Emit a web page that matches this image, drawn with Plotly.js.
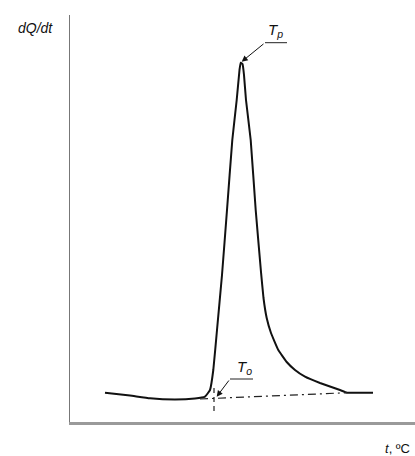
<!DOCTYPE html>
<html>
<head>
<meta charset="utf-8">
<script src="https://cdn.plot.ly/plotly-3.0.1.min.js"></script>
<style>html,body{margin:0;padding:0;background:#fff;}#chart{width:415px;height:456px;}</style>
</head>
<body>
<div id="chart"></div>
<script>
// Temperature (arbitrary units along t axis) and heat flow dQ/dt (arbitrary units)
var tempValues = [35, 60, 80, 105, 125, 135, 140, 143.3, 147, 152, 157, 162.3, 166.7, 169.5, 170.7, 172.5, 174, 176, 180.7, 185.7, 191, 193.5, 196.7, 201, 208.3, 216.7, 225, 235, 250, 270, 277, 303];
var heatFlow   = [29.3, 26.5, 23.7, 22.5, 23.5, 25.3, 32, 52, 92, 147, 212, 282, 322, 352, 359.3, 358, 347, 322, 282, 212, 150, 124, 104, 89, 72, 60, 52, 45.3, 39, 32, 29.3, 29.3];
// Extrapolated baseline
var baseT = [130, 277];
var baseQ = [23, 29.3];
// Onset marker
var onsetT = [144, 144];
var onsetQ = [34, 10];
// Labels
var peakLabel = "T<sub>p</sub>";
var onsetLabel = "T<sub>o</sub>";
var yLabel = "dQ/dt";
var xLabel = "<i>t</i>, ºC";
var peakPoint = [171.7, 360.3];
var onsetPoint = [146.7, 25.3];

var font = "Liberation Sans, Arial, sans-serif";

var traces = [
  {x: tempValues, y: heatFlow, mode: "lines", line: {color: "#111", width: 2, shape: "spline", smoothing: 0.3}, hoverinfo: "none"},
  {x: baseT, y: baseQ, mode: "lines", line: {color: "#222", width: 1.2, dash: "8px,4px,2px,4px"}, hoverinfo: "none"},
  {x: onsetT, y: onsetQ, mode: "lines", line: {color: "#222", width: 1.2, dash: "5px,4px"}, hoverinfo: "none"}
];

var layout = {
  width: 415, height: 456,
  margin: {l: 70, r: 0, t: 15, b: 34},
  paper_bgcolor: "#fff", plot_bgcolor: "#fff",
  showlegend: false,
  xaxis: {range: [0, 345], showline: true, linecolor: "#9a9a9a", linewidth: 2.5, showgrid: false, zeroline: false, showticklabels: false, ticks: "", fixedrange: true},
  yaxis: {range: [0, 407], showline: true, linecolor: "#777", linewidth: 1.5, showgrid: false, zeroline: false, showticklabels: false, ticks: "", fixedrange: true},
  shapes: [
    {type: "line", xref: "x", yref: "y", x0: 195, y0: 379.3, x1: 217, y1: 379.3, line: {color: "#222", width: 1}},
    {type: "line", xref: "x", yref: "y", x0: 160, y0: 43, x1: 183, y1: 43, line: {color: "#222", width: 1}}
  ],
  annotations: [
    {x: peakPoint[0], y: peakPoint[1], xref: "x", yref: "y", ax: 195, ay: 379.3, axref: "x", ayref: "y", text: "", showarrow: true, arrowhead: 2, arrowsize: 1.2, arrowwidth: 1, arrowcolor: "#111"},
    {x: onsetPoint[0], y: onsetPoint[1], xref: "x", yref: "y", ax: 160, ay: 43, axref: "x", ayref: "y", text: "", showarrow: true, arrowhead: 2, arrowsize: 1.2, arrowwidth: 1, arrowcolor: "#111"},
    {x: 205, y: 392, xref: "x", yref: "y", text: "<i>" + peakLabel + "</i>", showarrow: false, font: {family: font, size: 15, color: "#111"}},
    {x: 174, y: 55, xref: "x", yref: "y", text: "<i>" + onsetLabel + "</i>", showarrow: false, font: {family: font, size: 15, color: "#111"}},
    {x: -0.1014, y: 0.968, xref: "paper", yref: "paper", xanchor: "center", yanchor: "middle", text: "<i>" + yLabel + "</i>", showarrow: false, font: {family: font, size: 14, color: "#111"}},
    {x: 0.948, y: -0.0639, xref: "paper", yref: "paper", xanchor: "center", yanchor: "middle", text: xLabel, showarrow: false, font: {family: font, size: 13, color: "#111"}}
  ]
};

Plotly.newPlot("chart", traces, layout, {staticPlot: true, displayModeBar: false});
</script>
</body>
</html>
